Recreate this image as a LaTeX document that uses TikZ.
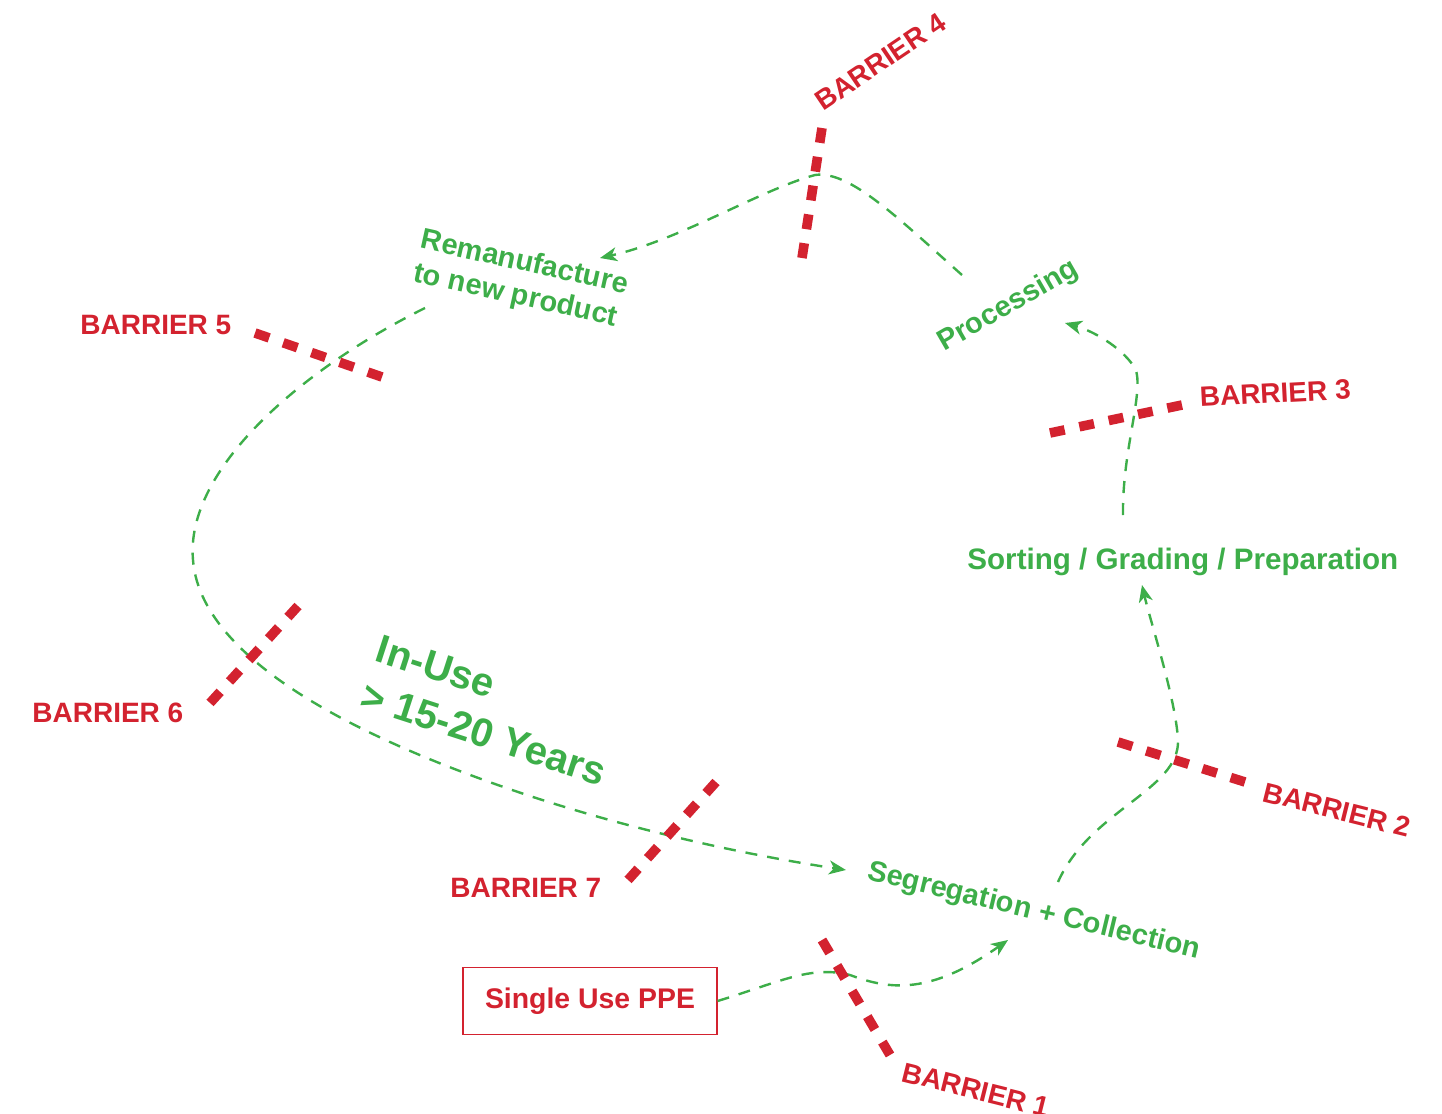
\documentclass[tikz,border=0pt]{standalone}
\usepackage{fontspec}
\setmainfont{Liberation Sans}
\usetikzlibrary{arrows.meta}
\definecolor{barred}{HTML}{D3222F}
\definecolor{loopgreen}{HTML}{3DAE49}
\begin{document}
\begin{tikzpicture}[x=0.5pt,y=-0.5pt,
	barrier/.style={draw=barred, line width=4.8pt},
	blabel/.style={text=barred, font=\fontsize{14}{16}\selectfont\bfseries, inner sep=0pt, anchor=base west},
	stage/.style={text=loopgreen, font=\fontsize{14.5}{17}\selectfont\bfseries, inner sep=0pt, anchor=base west},
	flow/.style={draw=loopgreen, line width=1.2pt, dash pattern=on 6pt off 5pt, -{Stealth[length=8.5pt,width=7pt,inset=2.5pt]}}]
	\useasboundingbox (0,0) rectangle (1442,1114);
	% stages of the loop
	\node[draw=barred, line width=0.6pt, text=barred, font=\fontsize{14.2}{17}\selectfont\bfseries,
		minimum width=127pt, minimum height=33.5pt] (ppe) at (590,1001) {Single Use PPE};
	\node[stage, rotate=-13.5] (seg) at (866,879) {Segregation + Collection};
	\node[stage, font=\fontsize{14.8}{17}\selectfont\bfseries] (sort) at (967,569) {Sorting / Grading / Preparation};
	\node[stage, rotate=30] (proc) at (944,352) {Processing};
	\node[stage, anchor=north west, align=left, rotate=-12.5] (reman) at (424,227) {Remanufacture\\to new product};
	\node[stage, anchor=north west, align=left, rotate=-18, font=\fontsize{20}{24.5}\selectfont\bfseries] (inuse) at (382,634) {In-Use\\> 15-20 Years};
	% free ends of the connectors
	\coordinate (seg in) at (1008,940);
	\coordinate (seg out) at (1058,882);
	\coordinate (sort in) at (1142,585);
	\coordinate (sort out) at (1123,515);
	\coordinate (proc in) at (1065,323);
	\coordinate (proc out) at (962,275);
	\coordinate (reman in) at (600,258);
	\coordinate (reman out) at (425,308);
	\coordinate (use end) at (846,870);
	% loop
	\draw[flow] (ppe.east) .. controls (780,982) and (810,965) .. (850,975) .. controls (890,990) and (930,995) .. (seg in);
	\draw[flow] (seg out) .. controls (1090,810) and (1180,790) .. (1178,740) .. controls (1176,700) and (1150,620) .. (sort in);
	\draw[flow] (sort out) .. controls (1122,450) and (1145,390) .. (1135,368) .. controls (1120,345) and (1090,330) .. (proc in);
	\draw[flow] (proc out) .. controls (900,220) and (850,170) .. (815,175) .. controls (760,190) and (680,240) .. (reman in);
	\draw[flow] (reman out) .. controls (300,370) and (185,470) .. (193,560) .. controls (200,650) and (330,730) .. (533,797) .. controls (650,835) and (760,857) .. (use end);
	% barriers, five dashes each
	\foreach \xa/\ya/\xb/\yb in {890/1055/822/940, 1118/742/1245/782, 1182/405/1050/433, 822/128/802/258,
		255/333/382/377, 298/606/210/703, 716/782/628/880}
	{
		\pgfmathsetmacro\gap{(veclen(\xb-\xa,\yb-\ya)/2-5*7.5)/4}
		\draw[barrier, dash pattern=on 7.5pt off \gap pt] (\xa,\ya) -- (\xb,\yb);
	}
	\node[blabel, rotate=-14] (b1) at (900,1081) {BARRIER 1};
	\node[blabel, rotate=-14] (b2) at (1261,801) {BARRIER 2};
	\node[blabel, rotate=3] (b3) at (1200,407) {BARRIER 3};
	\node[blabel, rotate=34] (b4) at (823,112) {BARRIER 4};
	\node[blabel] (b5) at (80,334) {BARRIER 5};
	\node[blabel] (b6) at (32,722) {BARRIER 6};
	\node[blabel] (b7) at (450,897) {BARRIER 7};
	% \draw (0,0) grid (1442,1114);
\end{tikzpicture}
\end{document}
